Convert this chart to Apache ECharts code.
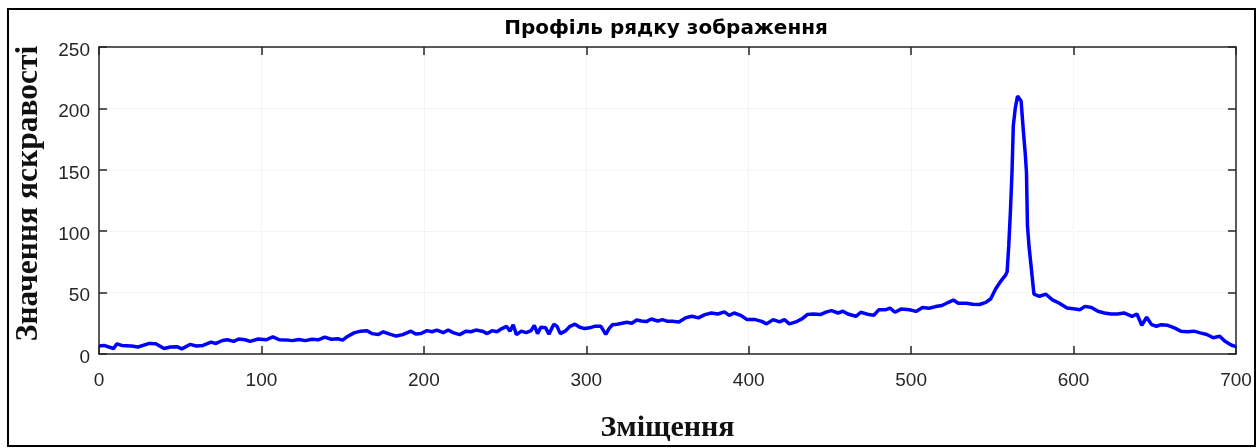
<!DOCTYPE html>
<html>
<head>
<meta charset="utf-8">
<script src="https://cdn.jsdelivr.net/npm/echarts@6/dist/echarts.min.js"></script>
<style>html,body{margin:0;padding:0;background:#fff;}#c{width:1258px;height:448px;}</style>
</head>
<body>
<div id="c"></div>
<script>
const titleText = 'Профіль рядку зображення';
const xName = 'Зміщення';
const yName = 'Значення яскравості';
const xTicks = [0, 100, 200, 300, 400, 500, 600, 700];
const yTicks = [0, 50, 100, 150, 200, 250];

const offsets = [
  0,3,9,11,14,20,24,31,35,40,44,48,51,56,60,64,69,72,76,79,83,86,90,93,98,
  103,107,111,115,119,123,127,131,135,139,143,147,150,153,157,161,165,168,172,175,179,183,187,192,195,198,
  202,205,208,212,215,218,222,226,229,232,236,239,242,245,248,251,253,255,257,260,263,266,268,270,272,275,277,280,282,284,287,290,293,296,299,
  302,305,309,312,314,316,319,322,325,328,331,334,337,340,344,347,350,353,357,361,365,369,373,377,381,385,388,391,395,399,
  404,408,411,415,419,422,425,429,433,436,440,444,448,451,455,458,461,466,469,474,477,480,484,487,490,494,499,
  503,507,511,515,519,523,526,529,534,538,542,546,549,552,555,558,559.1,560.1,561.1,562.1,562.9,564.1,565.5,566.5,567.7,569,570.2,571,571.6,572.6,574.2,575.6,579,583,587,591,596,
  600,604,607,611,615,619,623,627,631,636,639,642,645,648,651,654,658,662,666,670,674,678,682,686,690,693,697,700
];
const brightness = [
  6.5,7,4.5,8.3,7,6.5,5.7,8.6,8.3,4.5,5.7,6,4.2,7.8,6.5,7,9.7,8.6,11,11.6,10.3,12.2,11.6,10.3,12.2,
  11.6,14,11.6,11.5,10.9,11.8,10.9,12,11.6,13.7,12,12.4,11.3,14.3,17.2,18.6,19,16.6,15.8,18.1,16.2,14.6,15.8,18.6,16.2,16.6,
  19,18.1,19.5,17.4,19.5,17.4,15.8,18.6,18.1,19.5,18.6,16.6,19,18.1,20.7,22.5,18.6,23.8,15.8,18.6,17.4,19,23.3,16.6,21.8,21.3,16.2,24.3,22.5,16.6,18.6,22.5,24.3,21.8,20.7,
  21.3,22.5,22.5,16,20.7,23.8,24.3,25.1,25.9,25.1,27.7,26.9,26.4,28.5,26.9,28,26.6,26.6,26.1,29.4,30.7,29.4,32.1,33.4,32.6,34.3,31.5,33.4,31.5,28,
  28,26.6,24.5,28,26.1,28,24.5,26.1,28.8,32.1,32.6,32.1,34.3,35.3,33.4,34.8,32.6,30.7,34,32.1,31.5,36,36,37.3,34,36.7,36,
  34.7,37.9,37.3,38.6,39.5,42.1,44,41.3,41.3,40.5,40.3,42,45,53,59,64,67,88.6,115.6,148,186,200,210,211,206,183,164,148,104.8,87.3,67,48.7,47,48.7,44.1,41.5,37.4,
  36.9,36.1,38.8,37.9,34.8,33.4,32.6,32.6,33.4,30.7,32.6,23.4,29.9,23.9,22.6,23.9,23.4,21.3,18.6,18.1,18.6,17.2,15.9,13.2,14.5,10.5,7.3,6
];

const axisColor = '#262626';
const tickFont = { fontFamily: 'Liberation Sans, Arial, sans-serif', fontSize: 19, color: axisColor };
const serifName = { fontFamily: 'Liberation Serif, Times New Roman, serif', fontWeight: 'bold', fontSize: 30, color: '#111' };

const chart = echarts.init(document.getElementById('c'), null, { renderer: 'canvas' });
const baseX = { type: 'value', min: xTicks[0], max: xTicks[xTicks.length - 1], interval: xTicks[1] - xTicks[0] };
const baseY = { type: 'value', min: yTicks[0], max: yTicks[yTicks.length - 1], interval: yTicks[1] - yTicks[0] };
const lineSt = { show: true, onZero: false, lineStyle: { color: axisColor, width: 1.5 } };
const tickSt = { show: true, inside: true, length: 8, lineStyle: { color: axisColor, width: 1.5 } };
const gridSt = { show: true, lineStyle: { color: '#ebebeb', type: 'dotted', width: 1 } };

chart.setOption({
  animation: false,
  backgroundColor: '#fff',
  title: {
    text: titleText,
    left: 661, top: 14, textAlign: 'center',
    textStyle: { fontFamily: 'DejaVu Sans, Arial, sans-serif', fontWeight: 'bold', fontSize: 20, color: '#000' }
  },
  grid: { left: 99, right: 22, top: 47, bottom: 92, show: false },
  xAxis: [
    Object.assign({}, baseX, {
      position: 'bottom',
      name: xName, nameLocation: 'middle', nameGap: 59,
      nameTextStyle: serifName,
      axisLine: lineSt, axisTick: tickSt,
      axisLabel: Object.assign({ margin: 17 }, tickFont),
      splitLine: gridSt
    }),
    Object.assign({}, baseX, {
      position: 'top',
      axisLine: lineSt, axisTick: tickSt,
      axisLabel: { show: false },
      splitLine: { show: false }
    })
  ],
  yAxis: [
    Object.assign({}, baseY, {
      position: 'left',
      axisLine: lineSt, axisTick: tickSt,
      axisLabel: Object.assign({
        margin: 9,
        formatter: function (v) { return '{t|' + v + '}'; },
        rich: { t: Object.assign({ padding: [7, 0, 0, 0] }, tickFont) }
      }, tickFont),
      splitLine: gridSt
    }),
    Object.assign({}, baseY, {
      position: 'right',
      axisLine: lineSt, axisTick: tickSt,
      axisLabel: { show: false },
      splitLine: { show: false }
    })
  ],
  series: [{
    type: 'line',
    xAxisIndex: 0, yAxisIndex: 0,
    data: offsets.map((x, i) => [x, brightness[i]]),
    showSymbol: false,
    lineStyle: { color: '#0000ff', width: 3.5 },
    itemStyle: { color: '#0000ff' }
  }],
  graphic: [
    {
      type: 'text',
      x: 29, y: 193.5, rotation: Math.PI / 2,
      style: { text: yName, textAlign: 'center', textVerticalAlign: 'middle', fill: '#111',
        font: 'bold 31.5px "Liberation Serif", "Times New Roman", serif' }
    },
    {
      type: 'rect',
      shape: { x: 8, y: 9, width: 1247, height: 437 },
      style: { fill: 'none', stroke: '#000', lineWidth: 2 },
      silent: true, z: 100
    }
  ]
});
</script>
</body>
</html>
